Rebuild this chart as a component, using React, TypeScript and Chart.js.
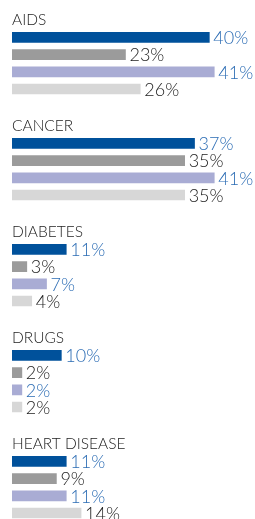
import React, { useEffect, useRef } from "react";
import { Chart, registerables } from "chart.js";

Chart.register(...registerables);

const categories = ["AIDS", "CANCER", "DIABETES", "DRUGS", "HEART DISEASE"];
const seriesDarkBlue = [40, 37, 11, 10, 11];
const seriesGray = [23, 35, 3, 2, 9];
const seriesLavender = [41, 41, 7, 2, 11];
const seriesLightGray = [26, 35, 4, 2, 14];

const barColors = ["#00519b", "#9b9b9b", "#a9acd4", "#d7d7d7"];
const labelColors = ["#2b6cb4", "#222222", "#2b6cb4", "#222222"];
const FONT = 'Lato, "Liberation Sans", Arial, sans-serif';

const valueLabels = {
  id: "valueLabels",
  afterDatasetsDraw(chart: any) {
    const ctx = chart.ctx;
    const meta = chart.getDatasetMeta(0);
    const data = chart.data.datasets[0].data as number[];
    ctx.save();
    ctx.font = `300 18px ${FONT}`;
    ctx.textAlign = "left";
    ctx.textBaseline = "middle";
    meta.data.forEach((bar: any, i: number) => {
      ctx.fillStyle = labelColors[i];
      ctx.fillText(`${data[i]}%`, bar.x + 4, bar.y + 1);
    });
    ctx.restore();
  },
};

function Group({ index }: { index: number }) {
  const ref = useRef<HTMLCanvasElement>(null);
  useEffect(() => {
    if (!ref.current) return;
    const values = [
      seriesDarkBlue[index],
      seriesGray[index],
      seriesLavender[index],
      seriesLightGray[index],
    ];
    const chart = new Chart(ref.current, {
      type: "bar",
      data: {
        labels: ["", "", "", ""],
        datasets: [
          {
            data: values,
            backgroundColor: barColors,
            borderWidth: 0,
            barThickness: 10,
          },
        ],
      },
      options: {
        indexAxis: "y",
        responsive: false,
        animation: false,
        devicePixelRatio: 1,
        layout: { padding: { left: 12, right: 21, top: 0, bottom: 16.4 } },
        scales: {
          x: { display: false, min: 0, max: 45 },
          y: { display: false },
        },
        plugins: {
          legend: { display: false },
          tooltip: { enabled: false },
          title: {
            display: true,
            text: categories[index],
            align: "start",
            color: "#222222",
            font: { family: FONT, size: 15.5, weight: "300", lineHeight: 1.15 },
            padding: { top: 3, bottom: 0 },
          },
        },
      },
      plugins: [valueLabels],
    });
    return () => chart.destroy();
  }, [index]);
  return (
    <canvas
      ref={ref}
      width={255}
      height={106}
      style={{ display: "block", width: 255, height: 106 }}
    />
  );
}

export default function App() {
  return (
    <div
      style={{
        position: "absolute",
        left: 0,
        top: 8,
        width: 255,
        background: "#ffffff",
      }}
    >
      {categories.map((_, i) => (
        <Group key={i} index={i} />
      ))}
    </div>
  );
}
